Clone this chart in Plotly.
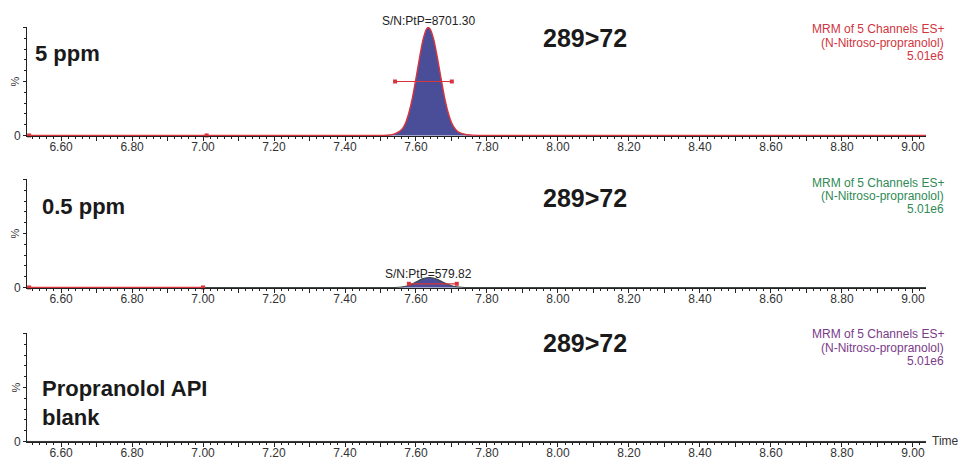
import plotly.graph_objects as go

# ---------------- data ----------------
time_5ppm = [6.504, 7.00, 7.40, 7.50, 7.52, 7.54, 7.56, 7.57, 7.58, 7.59, 7.60, 7.61, 7.62, 7.63,
             7.635, 7.64, 7.65, 7.66, 7.67, 7.68, 7.69, 7.70, 7.71, 7.72, 7.74, 7.76, 7.78, 7.80, 8.20, 9.037]
int_5ppm = [0, 0, 0, 0, 0.2, 1.4, 5.5, 11.0, 21.0, 35.0, 53.0, 72.0, 89.0, 98.7,
            100.0, 98.5, 89.0, 72.5, 54.0, 36.0, 22.0, 12.0, 6.2, 3.0, 0.9, 0.3, 0.1, 0, 0, 0]

time_05ppm = [6.504, 7.00, 7.40, 7.54, 7.56, 7.58, 7.60, 7.62, 7.64, 7.66, 7.68, 7.70, 7.72, 7.74, 8.20, 9.037]
int_05ppm = [0, 0, 0, 0, 0.4, 1.8, 5.0, 8.2, 9.2, 7.6, 4.3, 1.6, 0.4, 0, 0, 0]

time_blank = [6.504, 7.00, 7.50, 8.00, 8.50, 9.037]
int_blank = [0, 0, 0, 0, 0, 0]

# integration markers (baseline start/end and peak-width bar)
base_marks_5ppm_t = [6.51, 7.01]
base_marks_05ppm_t = [6.51, 7.00]
bar_5ppm_t = [7.541, 7.701]
bar_5ppm_y = [50, 50]
bar_05ppm_t = [7.58, 7.715]
bar_05ppm_y = [3.4, 3.4]

sample_labels = ["5 ppm", "0.5 ppm", "Propranolol API<br>blank"]
transition_label = "289>72"
sn_labels = ["S/N:PtP=8701.30", "S/N:PtP=579.82"]
header_lines = ["MRM of 5 Channels ES+", "(N-Nitroso-propranolol)", "5.01e6"]
header_colors = ["#d0343e", "#2f8a55", "#7b3a8a"]

xtick_vals = [round(6.6 + 0.1 * i, 2) for i in range(25)]
xtick_text = [("%.2f" % v) if i % 2 == 0 else "" for i, v in enumerate(xtick_vals)]

# ---------------- layout helpers ----------------
W, H = 959, 459
L, R, T, B = 27, 33, 27, 17
PW, PH = W - L - R, H - T - B


def px(x):  # x in window pixels -> paper
    return (x - L) / PW


def py(y):  # y in window pixels -> paper
    return 1 - (y - T) / PH


panels = [(27, 136), (179, 288), (333, 442)]
FONT = "Liberation Sans, Arial, sans-serif"
RED = "#d9343e"
NAVY = "#4a4e98"

fig = go.Figure()

# panel 1
fig.add_trace(go.Scatter(x=time_5ppm, y=int_5ppm, mode="lines", line=dict(color=RED, width=1.4, shape="spline", smoothing=0.6),
                         fill="tozeroy", fillcolor=NAVY, xaxis="x", yaxis="y", showlegend=False))
fig.add_trace(go.Scatter(x=base_marks_5ppm_t, y=[0, 0], mode="markers", marker=dict(symbol="square", size=4, color=RED),
                         xaxis="x", yaxis="y", showlegend=False, cliponaxis=False))
fig.add_trace(go.Scatter(x=bar_5ppm_t, y=bar_5ppm_y, mode="lines+markers", line=dict(color=RED, width=1.2),
                         marker=dict(symbol="square", size=4, color=RED), xaxis="x", yaxis="y", showlegend=False))

# panel 2
fig.add_trace(go.Scatter(x=time_05ppm, y=int_05ppm, mode="lines", line=dict(color="#3b4743", width=1.1, shape="spline", smoothing=0.6),
                         fill="tozeroy", fillcolor=NAVY, xaxis="x2", yaxis="y2", showlegend=False))
fig.add_trace(go.Scatter(x=base_marks_05ppm_t, y=[0, 0], mode="lines+markers", line=dict(color=RED, width=1.4),
                         marker=dict(symbol="square", size=4, color=RED), xaxis="x2", yaxis="y2", showlegend=False, cliponaxis=False))
fig.add_trace(go.Scatter(x=bar_05ppm_t, y=bar_05ppm_y, mode="lines+markers", line=dict(color=RED, width=1.2),
                         marker=dict(symbol="square", size=4, color=RED), xaxis="x2", yaxis="y2", showlegend=False))

# panel 3
fig.add_trace(go.Scatter(x=time_blank, y=int_blank, mode="lines", line=dict(color="#333333", width=1),
                         xaxis="x3", yaxis="y3", showlegend=False))

layout = dict(width=W, height=H, margin=dict(l=L, r=R, t=T, b=B, autoexpand=False), paper_bgcolor="white",
              plot_bgcolor="white", font=dict(family=FONT, size=12, color="#333333"))

for i, (ytop, ybot) in enumerate(panels):
    sfx = "" if i == 0 else str(i + 1)
    layout["xaxis" + sfx] = dict(domain=[0, 1], anchor="y" + sfx, range=[6.504, 9.037], showline=True, automargin=False,
                                 linecolor="#222222", linewidth=1, ticks="outside", ticklen=4, tickcolor="#222222",
                                 tickvals=xtick_vals, ticktext=xtick_text, showgrid=False, zeroline=False,
                                 ticklabelstandoff=-4,
                                 tickfont=dict(size=12, color="#333333"),
                                 minor=dict(ticks="outside", dtick=0.02, tick0=6.6, ticklen=2, tickcolor="#222222"))
    layout["yaxis" + sfx] = dict(domain=[py(ybot), py(ytop)], anchor="x" + sfx, range=[-0.5, 100.5], showline=True,
                                 automargin=False,
                                 linecolor="#222222", linewidth=1, ticks="outside", ticklen=3, tickcolor="#222222",
                                 tickvals=[0, 50, 100], ticktext=["0", "", ""], showgrid=False, zeroline=False,
                                 tickfont=dict(size=12, color="#333333"),
                                 minor=dict(ticks="outside", dtick=10, ticklen=2, tickcolor="#222222"))

annotations = []
# % labels
for ytop, ybot in panels:
    annotations.append(dict(x=px(15), y=py((ytop + ybot) / 2), xref="paper", yref="paper", text="%", textangle=-90,
                            showarrow=False, font=dict(size=11, color="#333333"), xanchor="center", yanchor="middle"))

# sample labels
sample_pos = [(33, 53), (40, 206.5), (40, 402.5)]
for txt, (x, y) in zip(sample_labels, sample_pos):
    annotations.append(dict(x=px(x), y=py(y), xref="paper", yref="paper", text="<b>%s</b>" % txt, showarrow=False,
                            align="left", xanchor="left", yanchor="middle", font=dict(size=22, color="#1a1a1a")))

# transition labels
for y in [38.5, 197.5, 342.5]:
    annotations.append(dict(x=px(585), y=py(y), xref="paper", yref="paper", text="<b>%s</b>" % transition_label,
                            showarrow=False, xanchor="center", yanchor="middle", font=dict(size=25, color="#1a1a1a")))

# header lines
header_y = [(29, 42.5, 55.5), (183, 196, 208.5), (334, 347.5, 360.5)]
for col, ys in zip(header_colors, header_y):
    for line, y in zip(header_lines, ys):
        annotations.append(dict(x=px(946), y=py(y), xref="paper", yref="paper", text=line, showarrow=False,
                                xanchor="right", yanchor="middle", font=dict(size=12, color=col)))

# S/N labels
sn_y = [20.5, 273.5]
for txt, y in zip(sn_labels, sn_y):
    annotations.append(dict(x=px(428), y=py(y), xref="paper", yref="paper", text=txt, showarrow=False,
                            xanchor="center", yanchor="middle", font=dict(size=12, color="#222222")))

# Time label
annotations.append(dict(x=px(930), y=py(441), xref="paper", yref="paper", text="Time", showarrow=False,
                        xanchor="left", yanchor="middle", font=dict(size=12, color="#333333")))

layout["annotations"] = annotations
fig.update_layout(**layout)
# remove the default page margin so the 959x459 figure fills the window exactly
fig.write_html("out.html", config={"displayModeBar": False},
               post_script="document.body.style.margin='0';document.body.style.overflow='hidden';")
